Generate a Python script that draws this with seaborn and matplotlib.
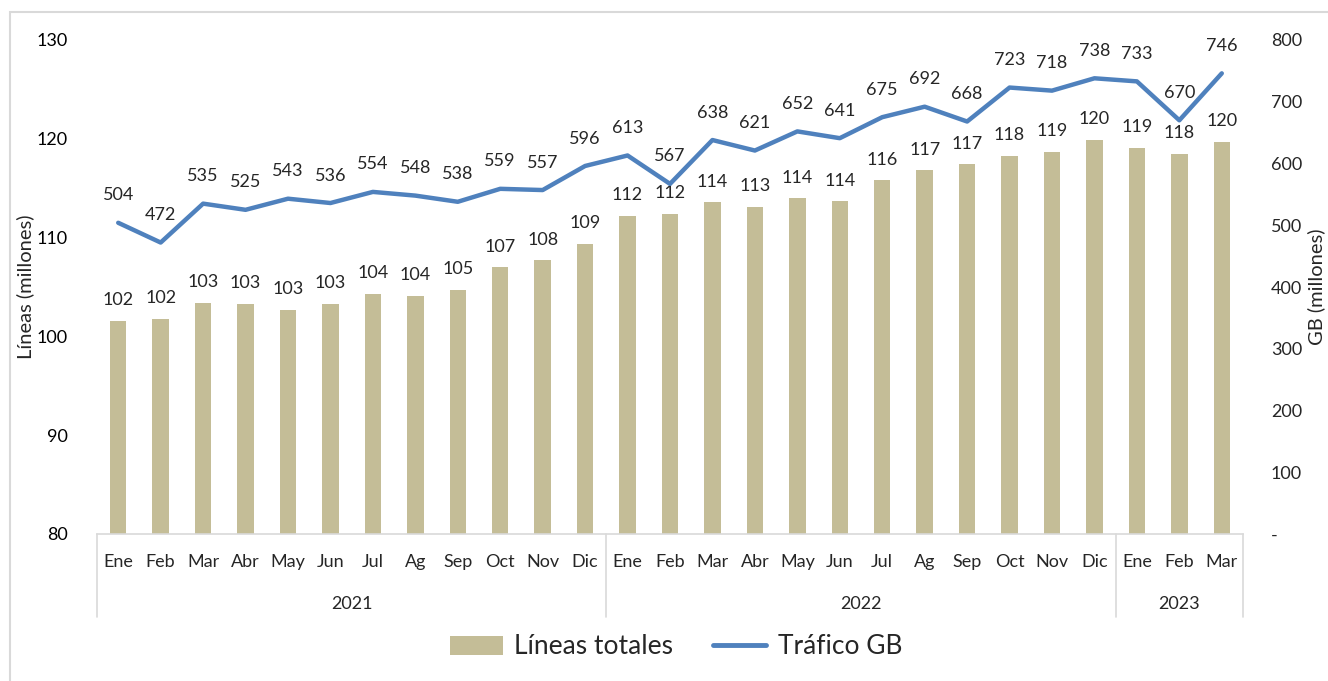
import matplotlib
matplotlib.use("Agg")
import matplotlib.pyplot as plt
import seaborn as sns
import numpy as np
import pandas as pd
from matplotlib.patches import Rectangle, Patch
from matplotlib.lines import Line2D
from matplotlib.ticker import FuncFormatter

months = ["Ene", "Feb", "Mar", "Abr", "May", "Jun", "Jul", "Ag", "Sep", "Oct", "Nov", "Dic",
          "Ene", "Feb", "Mar", "Abr", "May", "Jun", "Jul", "Ag", "Sep", "Oct", "Nov", "Dic",
          "Ene", "Feb", "Mar"]
years = ["2021", "2022", "2023"]
year_counts = [12, 12, 3]
lineas = [101.6, 101.8, 103.4, 103.3, 102.7, 103.3, 104.3, 104.1, 104.7, 107.0, 107.7, 109.4,
          112.2, 112.4, 113.6, 113.1, 114.0, 113.7, 115.8, 116.8, 117.4, 118.3, 118.7, 119.9,
          119.1, 118.5, 119.7]
trafico = [504, 472, 535, 525, 543, 536, 554, 548, 538, 559, 557, 596,
           613, 567, 638, 621, 652, 641, 675, 692, 668, 723, 718, 738,
           733, 670, 746]

BAR_COLOR = "#C4BD97"
LINE_COLOR = "#4F81BD"
FS = 13

sns.set_theme(style="white")
plt.rcParams["font.family"] = ["Lato", "DejaVu Sans"]

W, H = 1328, 681
fig = plt.figure(figsize=(W / 100, H / 100), dpi=100)
fig.patch.set_facecolor("white")

# outer frame
fig.add_artist(Rectangle((10 / W, -0.05), 1.2, 1 - 12 / H + 0.05, transform=fig.transFigure,
                         fill=False, edgecolor="#D9D9D9", linewidth=1.5))

left, right, bottom, top = 97 / W, 1243 / W, 1 - 534 / H, 1 - 40 / H
ax = fig.add_axes([left, bottom, right - left, top - bottom])
n = len(months)
pos = np.arange(n)
df = pd.DataFrame({"pos": pos, "lineas": lineas, "trafico": trafico})

sns.barplot(data=df, x="pos", y="lineas", ax=ax, color=BAR_COLOR, width=0.39,
            saturation=1, edgecolor="none")
ax.set_ylim(80, 130)
ax.set_xlim(-0.5, n - 0.5)
ax.set_yticks(range(80, 131, 10))
ax.tick_params(axis="y", labelsize=FS, colors="#000000", length=0, pad=21)
ax.set_xticks([])
ax.set_xlabel("")
ax.set_ylabel("Líneas (millones)", fontsize=14.5)
ax.yaxis.set_label_coords((34 - 97) / (1243 - 97), 0.5)
for s in ["top", "right", "left"]:
    ax.spines[s].set_visible(False)
ax.spines["bottom"].set_color("#D9D9D9")
ax.spines["bottom"].set_linewidth(1.2)

for i, v in enumerate(lineas):
    ax.annotate(f"{v:.0f}", (i, v), xytext=(0, 9), textcoords="offset points",
                ha="center", va="bottom", fontsize=FS)

ax2 = ax.twinx()
sns.lineplot(data=df, x="pos", y="trafico", ax=ax2, color=LINE_COLOR, linewidth=3.2)
ax2.set_ylim(0, 800)
ax2.set_xlim(-0.5, n - 0.5)
ax2.set_yticks(range(0, 801, 100))
ax2.yaxis.set_major_formatter(FuncFormatter(lambda v, p: "-" if v == 0 else f"{v:.0f}"))
ax2.tick_params(axis="y", labelsize=FS, length=0, pad=20)
ax2.set_ylabel("GB (millones)", fontsize=14.5, rotation=90)
ax2.yaxis.set_label_coords((1307 - 97) / (1243 - 97), 0.5)
ax2.set_xlabel("")
for s in ["top", "right", "left", "bottom"]:
    ax2.spines[s].set_visible(False)

for i, v in enumerate(trafico):
    ax2.annotate(f"{v}", (i, v), xytext=(0, 14), textcoords="offset points",
                 ha="center", va="bottom", fontsize=FS)

# category axis (months + years)
trans = ax.get_xaxis_transform()
ax_h = 534 - 40


def yax(px):
    return -(px - 534) / ax_h


for i, m in enumerate(months):
    ax.text(i, yax(562), m, transform=trans, ha="center", va="center", fontsize=FS, clip_on=False)

start = 0
bounds = [-0.5]
for y, c in zip(years, year_counts):
    mid = start + (c - 1) / 2
    ax.text(mid, yax(604), y, transform=trans, ha="center", va="center", fontsize=FS, clip_on=False)
    start += c
    bounds.append(start - 0.5)
for b in bounds:
    ax.plot([b, b], [0, yax(617)], transform=trans, color="#D9D9D9", lw=1.2, clip_on=False)

# legend
handles = [Patch(facecolor=BAR_COLOR, edgecolor="none", label="Líneas totales"),
           Line2D([0], [0], color=LINE_COLOR, lw=3.5, label="Tráfico GB")]
fig.legend(handles=handles, loc="center", bbox_to_anchor=(676 / W, 1 - 647 / H), ncol=2,
           frameon=False, fontsize=19, handlelength=2.0, handleheight=0.75,
           columnspacing=1.5, handletextpad=0.45)

fig.savefig("out.png", dpi=100)
